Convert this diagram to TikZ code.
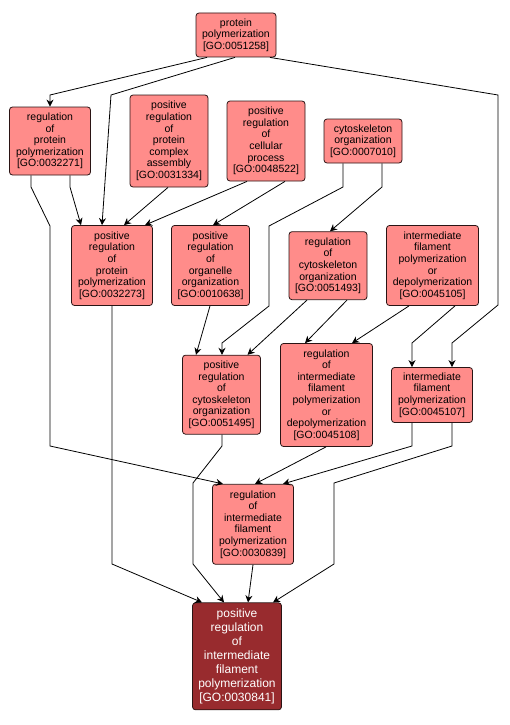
\documentclass[tikz,border=0pt]{standalone}
\usepackage{fontspec}
\setsansfont{Liberation Sans}
\usetikzlibrary{arrows.meta}
\definecolor{termFill}{HTML}{FF8C8A}
\definecolor{termStroke}{HTML}{2A1414}
\definecolor{queryFill}{HTML}{982B2E}

\begin{document}
\begin{tikzpicture}[
    x=1pt, y=-1pt,
    >={Stealth[length=7pt,width=7pt]},
    goNode/.style={
        rectangle, rounded corners=3pt,
        draw=termStroke, line width=0.8pt,
        fill=termFill,
        inner sep=2pt,
        align=center,
        font=\sffamily\fontsize{10.5}{11.6}\selectfont
    },
    queryNode/.style={
        goNode, fill=queryFill, text=white,
        font=\sffamily\fontsize{12}{14}\selectfont
    },
    flow/.style={->, line width=0.8pt, draw=black}
]
\useasboundingbox (0,0) rectangle (509,725);

% Top row
\node[goNode, minimum width=80pt, minimum height=44pt] (ProtPoly) at (236,35)
  {protein\\polymerization\\{[GO:0051258]}};

\node[goNode, minimum width=81pt, minimum height=68pt] (RegProtPoly) at (50,141)
  {regulation\\of\\protein\\polymerization\\{[GO:0032271]}};
\node[goNode, minimum width=78pt, minimum height=92pt] (PosRegComplex) at (169,141)
  {positive\\regulation\\of\\protein\\complex\\assembly\\{[GO:0031334]}};
\node[goNode, minimum width=78pt, minimum height=80pt] (PosRegCell) at (266,141)
  {positive\\regulation\\of\\cellular\\process\\{[GO:0048522]}};
\node[goNode, minimum width=78pt, minimum height=44pt] (CytoOrg) at (363,141)
  {cytoskeleton\\organization\\{[GO:0007010]}};

% Second row
\node[goNode, minimum width=81pt, minimum height=80pt] (PosRegProtPoly) at (112,265.5)
  {positive\\regulation\\of\\protein\\polymerization\\{[GO:0032273]}};
\node[goNode, minimum width=78pt, minimum height=80pt] (PosRegOrg) at (210.5,265.5)
  {positive\\regulation\\of\\organelle\\organization\\{[GO:0010638]}};
\node[goNode, minimum width=78pt, minimum height=68pt] (RegCyto) at (328,265.7)
  {regulation\\of\\cytoskeleton\\organization\\{[GO:0051493]}};
\node[goNode, minimum width=92pt, minimum height=80pt] (IFPolyDepoly) at (432.5,265.5)
  {intermediate\\filament\\polymerization\\or\\depolymerization\\{[GO:0045105]}};

% Third row
\node[goNode, minimum width=78pt, minimum height=79pt] (PosRegCyto) at (221.5,394.7)
  {positive\\regulation\\of\\cytoskeleton\\organization\\{[GO:0051495]}};
\node[goNode, minimum width=92pt, minimum height=103pt] (RegIFPolyDepoly) at (326.5,395)
  {regulation\\of\\intermediate\\filament\\polymerization\\or\\depolymerization\\{[GO:0045108]}};
\node[goNode, minimum width=81pt, minimum height=55pt] (IFPoly) at (432,395)
  {intermediate\\filament\\polymerization\\{[GO:0045107]}};

% Bottom
\node[goNode, minimum width=81pt, minimum height=80pt] (RegIFPoly) at (253,524.3)
  {regulation\\of\\intermediate\\filament\\polymerization\\{[GO:0030839]}};
\node[queryNode, minimum width=89pt, minimum height=107pt] (PosRegIFPoly) at (237,656.3)
  {positive\\regulation\\of\\intermediate\\filament\\polymerization\\{[GO:0030841]}};

% is_a / regulates edges
\draw[flow] ([xshift=-29pt]ProtPoly.south) -- (50,95) -- (RegProtPoly.north);
\draw[flow] ([xshift=-1pt]ProtPoly.south) -- (111,95) -- ([xshift=-10pt]PosRegProtPoly.north);
\draw[flow] ([xshift=34pt]ProtPoly.south) -- (498,95) -- (498,305) -- (452,343) -- ([xshift=20pt]IFPoly.north);
\draw[flow] ([xshift=20pt]RegProtPoly.south) -- (70,187) -- ([xshift=-31pt]PosRegProtPoly.north);
\draw[flow] ([xshift=-19pt]RegProtPoly.south) -- (31,187) -- (50,226) -- (50,446) -- ([xshift=-30pt]RegIFPoly.north);
\draw[flow] ([xshift=-1pt]PosRegComplex.south) -- ([xshift=12pt]PosRegProtPoly.north);
\draw[flow] ([xshift=-19pt]PosRegCell.south) -- ([xshift=33pt]PosRegProtPoly.north);
\draw[flow] ([xshift=19pt]PosRegCell.south) -- ([xshift=2.5pt]PosRegOrg.north);
\draw[flow] ([xshift=-20pt]CytoOrg.south) -- (343,187) -- (269,226) -- (269,306) -- (222,343) -- ([xshift=0.5pt]PosRegCyto.north);
\draw[flow] ([xshift=19pt]CytoOrg.south) -- (382,187) -- ([xshift=2pt]RegCyto.north);
\draw[flow] (PosRegProtPoly.south) -- (112,564) -- ([xshift=-35pt]PosRegIFPoly.north);
\draw[flow] ([xshift=-0.5pt]PosRegOrg.south) -- ([xshift=-25.5pt]PosRegCyto.north);
\draw[flow] ([xshift=-21pt]RegCyto.south) -- ([xshift=26pt]PosRegCyto.north);
\draw[flow] ([xshift=19pt]RegCyto.south) -- ([xshift=-21.5pt]RegIFPolyDepoly.north);
\draw[flow] ([xshift=-23.5pt]IFPolyDepoly.south) -- ([xshift=25.5pt]RegIFPolyDepoly.north);
\draw[flow] ([xshift=22.5pt]IFPolyDepoly.south) -- (412,343) -- ([xshift=-20pt]IFPoly.north);
\draw[flow] ([xshift=0.5pt]PosRegCyto.south) -- (222,446) -- (193,483) -- (193,564) -- ([xshift=-13pt]PosRegIFPoly.north);
\draw[flow] ([xshift=-0.5pt]RegIFPolyDepoly.south) -- ([xshift=2pt]RegIFPoly.north);
\draw[flow] ([xshift=-20pt]IFPoly.south) -- (412,446) -- ([xshift=30pt]RegIFPoly.north);
\draw[flow] ([xshift=20pt]IFPoly.south) -- (452,446) -- (334,483) -- (334,564) -- ([xshift=36pt]PosRegIFPoly.north);
\draw[flow] (RegIFPoly.south) -- ([xshift=11pt]PosRegIFPoly.north);

\end{tikzpicture}
\end{document}
